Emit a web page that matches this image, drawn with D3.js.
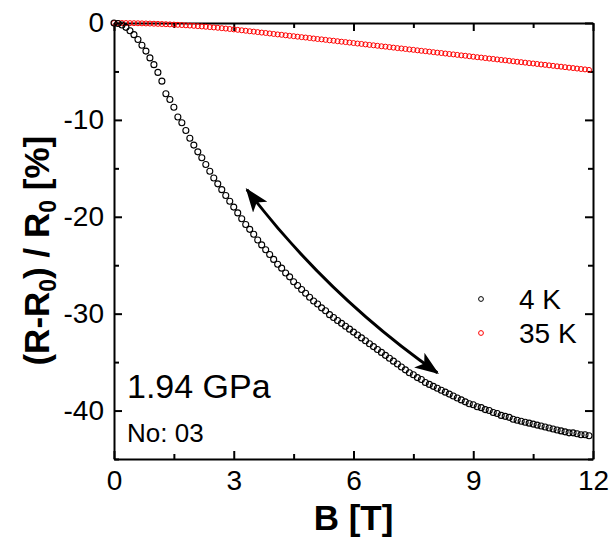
<!DOCTYPE html>
<html><head><meta charset="utf-8">
<script src="https://cdn.jsdelivr.net/npm/d3@7"></script>
<style>body{margin:0;background:#fff}svg{display:block}text{font-family:"Liberation Sans",Arial,sans-serif}</style>
</head><body>
<script>
const fieldT = [0.0,0.1,0.2,0.3,0.4,0.5,0.6,0.7,0.8,0.9,1.0,1.1,1.2,1.3,1.4,1.5,1.6,1.7,1.8,1.9,2.0,2.1,2.2,2.3,2.4,2.5,2.6,2.7,2.8,2.9,3.0,3.1,3.2,3.3,3.4,3.5,3.6,3.7,3.8,3.9,4.0,4.1,4.2,4.3,4.4,4.5,4.6,4.7,4.8,4.9,5.0,5.1,5.2,5.3,5.4,5.5,5.6,5.7,5.8,5.9,6.0,6.1,6.2,6.3,6.4,6.5,6.6,6.7,6.8,6.9,7.0,7.1,7.2,7.3,7.4,7.5,7.6,7.7,7.8,7.9,8.0,8.1,8.2,8.3,8.4,8.5,8.6,8.7,8.8,8.9,9.0,9.1,9.2,9.3,9.4,9.5,9.6,9.7,9.8,9.9,10.0,10.1,10.2,10.3,10.4,10.5,10.6,10.7,10.8,10.9,11.0,11.1,11.2,11.3,11.4,11.5,11.6,11.7,11.8,11.9];
const mr4K = [0,-0.05,-0.2,-0.45,-0.8,-1.2,-1.7,-2.3,-2.9,-3.6,-4.3,-5.1,-6.0,-7.3,-7.9,-8.7,-9.7,-10.3,-11.1,-11.9,-12.6,-13.3,-13.9,-14.6,-15.3,-16.0,-16.6,-17.2,-17.8,-18.4,-19.0,-19.6,-20.2,-20.8,-21.3,-21.8,-22.4,-22.9,-23.4,-23.9,-24.4,-24.9,-25.3,-25.8,-26.2,-26.7,-27.1,-27.5,-27.9,-28.3,-28.7,-29.0,-29.4,-29.7,-30.1,-30.4,-30.7,-31.0,-31.3,-31.6,-31.9,-32.2,-32.5,-32.8,-33.1,-33.4,-33.7,-34.0,-34.3,-34.6,-34.9,-35.2,-35.5,-35.8,-36.1,-36.3,-36.6,-36.8,-37.1,-37.3,-37.5,-37.7,-37.9,-38.1,-38.3,-38.5,-38.7,-38.9,-39.1,-39.3,-39.4,-39.6,-39.7,-39.9,-40.0,-40.2,-40.3,-40.5,-40.6,-40.7,-40.9,-41.0,-41.1,-41.2,-41.3,-41.4,-41.5,-41.6,-41.7,-41.8,-41.9,-42.0,-42.1,-42.2,-42.3,-42.3,-42.4,-42.5,-42.5,-42.6];
const mr35K = [0,0,-0.003,-0.007,-0.012,-0.018,-0.026,-0.036,-0.047,-0.059,-0.073,-0.089,-0.106,-0.124,-0.144,-0.165,-0.188,-0.212,-0.238,-0.265,-0.294,-0.324,-0.355,-0.388,-0.423,-0.459,-0.496,-0.535,-0.575,-0.617,-0.661,-0.705,-0.752,-0.80,-0.85,-0.89,-0.94,-0.99,-1.03,-1.08,-1.13,-1.18,-1.22,-1.27,-1.32,-1.36,-1.41,-1.46,-1.50,-1.55,-1.60,-1.65,-1.69,-1.74,-1.79,-1.83,-1.88,-1.93,-1.97,-2.02,-2.07,-2.12,-2.16,-2.21,-2.26,-2.30,-2.35,-2.40,-2.44,-2.49,-2.54,-2.59,-2.63,-2.68,-2.73,-2.77,-2.82,-2.87,-2.91,-2.96,-3.01,-3.06,-3.10,-3.15,-3.20,-3.24,-3.29,-3.34,-3.38,-3.43,-3.48,-3.53,-3.57,-3.62,-3.67,-3.71,-3.76,-3.81,-3.85,-3.90,-3.95,-4.00,-4.04,-4.09,-4.14,-4.18,-4.23,-4.28,-4.32,-4.37,-4.42,-4.47,-4.51,-4.56,-4.61,-4.65,-4.70,-4.75,-4.79,-4.84];
const xTicks = [0,3,6,9,12];
const yTicks = [0,-10,-20,-30,-40];
const xMinor = [1.5,4.5,7.5,10.5];
const yMinor = [-5,-15,-25,-35,-45];
const seriesNames = ["4 K","35 K"];
const seriesColors = ["#000000","#ff0000"];
const arrowPts = [[3.33,-17.2],[5.36,-28.2],[8.1,-36.1]];

const W=612,H=540;
const m={l:114,t:23,r:19,b:81};
const svg=d3.select("body").append("svg").attr("width",W).attr("height",H);
const x=d3.scaleLinear().domain([0,12]).range([m.l,W-m.r]);
const y=d3.scaleLinear().domain([0,-45]).range([m.t,H-m.b]);

function styleAxis(g){g.select(".domain").attr("stroke","#000").attr("stroke-width",2);
  g.selectAll(".tick line").attr("stroke","#000").attr("stroke-width",2);
  g.selectAll(".tick text").attr("fill","#000").attr("font-size",28);}

svg.append("g").attr("transform",`translate(0,${y(-45)})`).call(d3.axisBottom(x).tickValues(xTicks).tickSize(-8).tickPadding(11).tickSizeOuter(0).tickFormat(d=>String(d))).call(styleAxis);
svg.append("g").attr("transform",`translate(0,${y(-45)})`).call(d3.axisBottom(x).tickValues(xMinor).tickSize(-5).tickFormat("")).call(styleAxis).select(".domain").remove();
svg.append("g").attr("transform",`translate(0,${y(0)})`).call(d3.axisTop(x).tickValues(xTicks).tickSize(-8).tickSizeOuter(0).tickFormat("")).call(styleAxis);
svg.append("g").attr("transform",`translate(0,${y(0)})`).call(d3.axisTop(x).tickValues(xMinor).tickSize(-5).tickFormat("")).call(styleAxis).select(".domain").remove();
svg.append("g").attr("transform",`translate(${x(0)},0)`).call(d3.axisLeft(y).tickValues(yTicks).tickSize(-8).tickPadding(10).tickSizeOuter(0).tickFormat(d=>String(d))).call(styleAxis);
svg.append("g").attr("transform",`translate(${x(0)},0)`).call(d3.axisLeft(y).tickValues(yMinor).tickSize(-5).tickFormat("")).call(styleAxis).select(".domain").remove();
svg.append("g").attr("transform",`translate(${x(12)},0)`).call(d3.axisRight(y).tickValues(yTicks).tickSize(-8).tickSizeOuter(0).tickFormat("")).call(styleAxis);
svg.append("g").attr("transform",`translate(${x(12)},0)`).call(d3.axisRight(y).tickValues(yMinor).tickSize(-5).tickFormat("")).call(styleAxis).select(".domain").remove();

// data
svg.append("g").selectAll("circle").data(fieldT.map((b,i)=>[b,mr35K[i]])).join("circle")
  .attr("cx",d=>x(d[0])).attr("cy",d=>y(d[1])).attr("r",2.5).attr("fill","none").attr("stroke",seriesColors[1]).attr("stroke-width",1);
svg.append("g").selectAll("circle").data(fieldT.map((b,i)=>[b,mr4K[i]])).join("circle")
  .attr("cx",d=>x(d[0])).attr("cy",d=>y(d[1])).attr("r",3).attr("fill","none").attr("stroke",seriesColors[0]).attr("stroke-width",1.1);

// arrow
const defs=svg.append("defs");
defs.append("marker").attr("id","ah").attr("viewBox","0 0 24 18").attr("refX",22).attr("refY",9)
  .attr("markerWidth",24).attr("markerHeight",18).attr("markerUnits","userSpaceOnUse").attr("orient","auto-start-reverse")
  .append("path").attr("d","M0,0 L24,9 L0,18 L6,9 Z").attr("fill","#000");
const p=arrowPts.map(d=>[x(d[0]),y(d[1])]);
svg.append("path").attr("d",`M${p[0][0]},${p[0][1]} Q${p[1][0]},${p[1][1]} ${p[2][0]},${p[2][1]}`)
  .attr("fill","none").attr("stroke","#000").attr("stroke-width",3)
  .attr("marker-start","url(#ah)").attr("marker-end","url(#ah)");

// legend
const lg=svg.append("g");
seriesNames.forEach((n,i)=>{
  lg.append("circle").attr("cx",481).attr("cy",299+i*34).attr("r",2.4).attr("fill","none").attr("stroke",seriesColors[i]).attr("stroke-width",1);
  lg.append("text").attr("x",519).attr("y",299+i*34).attr("dy","0.36em").attr("font-size",28).text(n);
});

svg.append("text").attr("x",127).attr("y",398).attr("font-size",34).text("1.94 GPa");
svg.append("text").attr("x",127).attr("y",442).attr("font-size",26).text("No: 03");

svg.append("text").attr("x",x(6)).attr("y",530).attr("text-anchor","middle").attr("font-size",35).attr("font-weight","bold").text("B [T]");
const yl=svg.append("text").attr("transform",`translate(49,${y(-23.5)}) rotate(-90)`).attr("text-anchor","middle").attr("font-size",35).attr("font-weight","bold");
yl.append("tspan").text("(R-R");
yl.append("tspan").attr("font-size",23).attr("dy",7).text("0");
yl.append("tspan").attr("dy",-7).text(") / R");
yl.append("tspan").attr("font-size",23).attr("dy",7).text("0");
yl.append("tspan").attr("dy",-7).text(" [%]");
</script>
</body></html>
